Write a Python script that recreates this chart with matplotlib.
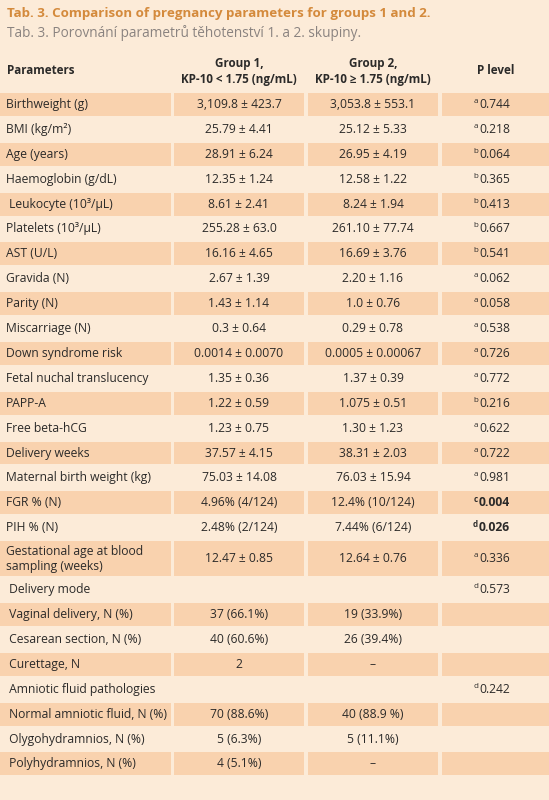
import matplotlib
matplotlib.use("Agg")
import matplotlib.pyplot as plt
from matplotlib.patches import Rectangle

plt.rcParams['font.family'] = ['Open Sans', 'DejaVu Sans']

title = "Tab. 3. Comparison of pregnancy parameters for groups 1 and 2."
subtitle = "Tab. 3. Porovnání parametrů těhotenství 1. a 2. skupiny."
headers = ["Parameters", "Group 1,\nKP-10 < 1.75 (ng/mL)", "Group 2,\nKP-10 ≥ 1.75 (ng/mL)", "P level"]
params = ["Birthweight (g)", "BMI (kg/m²)", "Age (years)", "Haemoglobin (g/dL)", " Leukocyte (10³/µL)",
          "Platelets (10³/µL)", "AST (U/L)", "Gravida (N)", "Parity (N)", "Miscarriage (N)",
          "Down syndrome risk", "Fetal nuchal translucency", "PAPP-A", "Free beta-hCG", "Delivery weeks",
          "Maternal birth weight (kg)", "FGR % (N)", "PIH % (N)",
          "Gestational age at blood\nsampling (weeks)", " Delivery mode", " Vaginal delivery, N (%)",
          " Cesarean section, N (%)", " Curettage, N", " Amniotic fluid pathologies",
          " Normal amniotic fluid, N (%)", " Olygohydramnios, N (%)", " Polyhydramnios, N (%)"]
group1 = ["3,109.8 ± 423.7", "25.79 ± 4.41", "28.91 ± 6.24", "12.35 ± 1.24", "8.61 ± 2.41", "255.28 ± 63.0",
          "16.16 ± 4.65", "2.67 ± 1.39", "1.43 ± 1.14", "0.3 ± 0.64", "0.0014 ± 0.0070", "1.35 ± 0.36",
          "1.22 ± 0.59", "1.23 ± 0.75", "37.57 ± 4.15", "75.03 ± 14.08", "4.96% (4/124)", "2.48% (2/124)",
          "12.47 ± 0.85", "", "37 (66.1%)", "40 (60.6%)", "2", "", "70 (88.6%)", "5 (6.3%)", "4 (5.1%)"]
group2 = ["3,053.8 ± 553.1", "25.12 ± 5.33", "26.95 ± 4.19", "12.58 ± 1.22", "8.24 ± 1.94", "261.10 ± 77.74",
          "16.69 ± 3.76", "2.20 ± 1.16", "1.0 ± 0.76", "0.29 ± 0.78", "0.0005 ± 0.00067", "1.37 ± 0.39",
          "1.075 ± 0.51", "1.30 ± 1.23", "38.31 ± 2.03", "76.03 ± 15.94", "12.4% (10/124)", "7.44% (6/124)",
          "12.64 ± 0.76", "", "19 (33.9%)", "26 (39.4%)", "–", "", "40 (88.9 %)", "5 (11.1%)", "–"]
p_marks = ["a", "a", "b", "b", "b", "b", "b", "a", "a", "a", "a", "a", "b", "a", "a", "a", "c", "d",
           "a", "d", "", "", "", "d", "", "", ""]
p_vals = ["0.744", "0.218", "0.064", "0.365", "0.413", "0.667", "0.541", "0.062", "0.058", "0.538",
          "0.726", "0.772", "0.216", "0.622", "0.722", "0.981", "0.004", "0.026",
          "0.336", "0.573", "", "", "", "0.242", "", "", ""]
bold_p = {16, 17}

BG = "#fcebd8"
SHADE = "#f9d2ae"
fig = plt.figure(figsize=(5.49, 8.0), dpi=100)
fig.patch.set_facecolor(BG)
ax = fig.add_axes([0, 0, 1, 1])
ax.set_xlim(0, 549); ax.set_ylim(800, 0); ax.axis('off')

ax.text(7, 13, title, color="#d48a3c", fontsize=9.6, fontweight='bold', va='center')
ax.text(7, 33, subtitle, color="#8a8380", fontsize=9.8, va='center')

cols = [(0, 171), (174, 304), (308, 438), (442, 549)]
tc = "#2b2a29"
fs = 8.7
ax.text(7, 71, headers[0], fontsize=8.4, fontweight='bold', color=tc, va='center')
for (x0, x1), h in zip(cols[1:], headers[1:]):
    ax.text((x0 + x1) / 2, 71, h, fontsize=8.4, fontweight='bold', color=tc, va='center', ha='center',
            linespacing=1.3)

y = 92
for i, name in enumerate(params):
    h = 37 if "\n" in name else 24.9
    if i % 2 == 0:
        for x0, x1 in cols:
            ax.add_patch(Rectangle((x0, y + 1), x1 - x0, h - 2, facecolor=SHADE, edgecolor='none'))
    yc = y + h / 2
    ax.text(6, yc, name, fontsize=fs, color=tc, va='center', linespacing=1.2)
    ax.text(239, yc, group1[i], fontsize=fs, color=tc, va='center', ha='center')
    ax.text(373, yc, group2[i], fontsize=fs, color=tc, va='center', ha='center')
    if p_vals[i]:
        ax.text(478, yc - 3, p_marks[i], fontsize=5.8, color=tc, va='center', ha='right',
                fontweight='bold' if i in bold_p else 'normal')
        ax.text(479, yc, p_vals[i], fontsize=fs, color=tc, va='center', ha='left',
                fontweight='bold' if i in bold_p else 'normal')
    y += h

fig.savefig("out.png", dpi=100, facecolor=BG)
